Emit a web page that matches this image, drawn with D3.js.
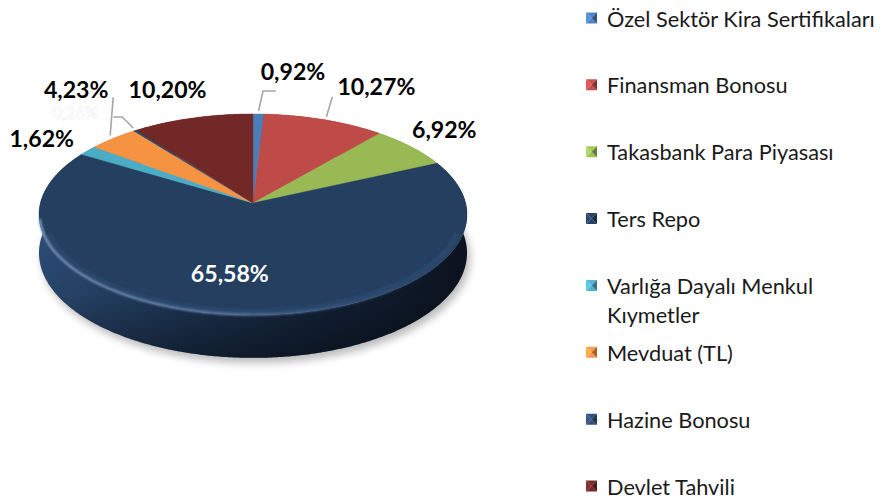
<!DOCTYPE html>
<html><head><meta charset="utf-8">
<script src="https://cdn.jsdelivr.net/npm/d3@7"></script>
<style>body{margin:0;background:#fff;} svg{display:block;}</style>
</head><body>
<svg id="chart" width="891" height="500"></svg>
<script>
// ---- data ----
const categories = ["Özel Sektör Kira Sertifikaları","Finansman Bonosu","Takasbank Para Piyasası","Ters Repo","Varlığa Dayalı Menkul Kıymetler","Mevduat (TL)","Hazine Bonosu","Devlet Tahvili"];
const values = [0.92, 10.27, 6.92, 65.58, 1.62, 4.23, 0.26, 10.20];
const valueLabels = ["0,92%","10,27%","6,92%","65,58%","1,62%","4,23%","0,26%","10,20%"];
const colors = ["#4a7ebb","#be4b48","#98b954","#243f60","#4bacc6","#f59343","#2c4d75","#722827"];

// ---- label layout (offsets from slice rim mid-point) ----
const labelLayout = [
  {dx:34.5, dy:-34, leader:[[0,-3],[4.5,-23],[17.5,-23]]},
  {dx:52, dy:-25, leader:[[2,-3],[8,-23]]},
  {dx:33, dy:-9},
  {dx:-9.6, dy:-32.7, inside:true},
  {dx:-46, dy:-3.6},
  {dx:-37, dy:-40, leader:[[-3,-3],[0,-41]]},
  {dx:-60, dy:-11.5, leader:[[-2,-2.5],[-13,-13.5],[-22,-13.5]], ghost:true},
  {dx:-25, dy:-20}
];

const svg = d3.select("#chart");
const defs = svg.append("defs");

// projection of a tilted disc with mild perspective
const cx = 253, cy = 203, A = 212.6, B = 99.2, K = 0.114, D = 38;
function proj(theta, r = 1, h = 0) {
  const u = Math.sin(theta) * r, v = Math.cos(theta) * r;
  const f = 1 / (1 + K * v);
  return [cx + A * u * f, cy + (-B * v + D * h) * f];
}
function arcPts(a0, a1, h, r = 1) {
  const n = Math.max(2, Math.ceil(Math.abs(a1 - a0) / 0.01));
  return d3.range(n + 1).map(i => proj(a0 + (a1 - a0) * i / n, r, h));
}
const line = d3.line();

const arcs = d3.pie().sort(null).value(d => d)(values);

// filters & gradients
const blur = defs.append("filter").attr("id","shadowBlur").attr("x","-20%").attr("y","-20%").attr("width","140%").attr("height","140%");
blur.append("feGaussianBlur").attr("stdDeviation", 4);
const blur2 = defs.append("filter").attr("id","hlBlur").attr("x","-10%").attr("y","-10%").attr("width","120%").attr("height","120%");
blur2.append("feGaussianBlur").attr("stdDeviation", 1.1);

const sideGrad = defs.append("linearGradient").attr("id","sideGrad")
  .attr("gradientUnits","userSpaceOnUse").attr("x1",cx - A).attr("x2",cx + A).attr("y1",0).attr("y2",0);
[["0%","#2d4e78"],["35%","#1f3858"],["70%","#142339"],["100%","#0c1421"]].forEach(s =>
  sideGrad.append("stop").attr("offset",s[0]).attr("stop-color",s[1]));
const sideShade = defs.append("linearGradient").attr("id","sideShade")
  .attr("gradientUnits","userSpaceOnUse").attr("x1",0).attr("x2",0).attr("y1",220).attr("y2",358);
[["0%",0],["55%",0.12],["100%",0.45]].forEach(s =>
  sideShade.append("stop").attr("offset",s[0]).attr("stop-color","#000").attr("stop-opacity",s[1]));
const hlGrad = defs.append("linearGradient").attr("id","hlGrad")
  .attr("gradientUnits","userSpaceOnUse").attr("x1",cx - A).attr("x2",cx + A).attr("y1",0).attr("y2",0);
[["0%","#8aa6cc",0.9],["45%","#7f9cc2",0.75],["80%","#5e7ba3",0.25],["100%","#5e7ba3",0.0]].forEach(s =>
  hlGrad.append("stop").attr("offset",s[0]).attr("stop-color",s[1]).attr("stop-opacity",s[2]));

// shadow
const full = arcPts(0, 2 * Math.PI, 1);
svg.append("path").attr("d", line(full) + "Z")
  .attr("transform","translate(3,5)")
  .attr("fill","#000").attr("opacity",0.28).attr("filter","url(#shadowBlur)");

// sides
const sides = svg.append("g");
arcs.forEach((a, i) => {
  const top = arcPts(a.startAngle, a.endAngle, 0);
  const bot = arcPts(a.startAngle, a.endAngle, 1).reverse();
  const d = line(top.concat(bot)) + "Z";
  const base = colors[i];
  sides.append("path").attr("d", d).attr("fill", i === 3 ? "url(#sideGrad)" : d3.color(base).darker(0.8));
  sides.append("path").attr("d", d).attr("fill", "url(#sideShade)");
});

// tops
const tops = svg.append("g");
arcs.forEach((a, i) => {
  const pts = [[cx, cy]].concat(arcPts(a.startAngle, a.endAngle, 0));
  tops.append("path").attr("d", line(pts) + "Z").attr("fill", colors[i])
    .attr("stroke", colors[i]).attr("stroke-width", 0.4);
});

// rim highlight on the front edge
const rim = arcPts(Math.PI * 0.55, Math.PI * 1.45, 0, 0.997).reverse();
svg.append("path").attr("d", line(rim)).attr("fill","none")
  .attr("stroke","url(#hlGrad)").attr("stroke-width",2.4).attr("filter","url(#hlBlur)");
const rimInner = arcPts(Math.PI * 0.6, Math.PI * 1.4, 0, 0.975).reverse();
svg.append("path").attr("d", line(rimInner)).attr("fill","none")
  .attr("stroke","#35557f").attr("stroke-opacity",0.35).attr("stroke-width",6).attr("filter","url(#hlBlur)");

// labels
const labelFont = "Lato, 'Open Sans', sans-serif";
const tmp = svg.append("text").attr("font-family", labelFont).attr("font-weight","bold").attr("font-size",22).text("10,27%");
const labelSize = 22 * 78 / tmp.node().getComputedTextLength();
tmp.remove();

const lg = svg.append("g");
arcs.forEach((a, i) => {
  const L = labelLayout[i];
  const mid = (a.startAngle + a.endAngle) / 2;
  const p = proj(mid, 1, 0);
  if (L.leader) {
    const pts = L.leader.map(o => [p[0] + o[0], p[1] + o[1]]);
    lg.append("path").attr("d", line(pts)).attr("fill","none")
      .attr("stroke","#a6a6a6").attr("stroke-width",1.6);
  }
  const t = lg.append("text")
    .attr("x", p[0] + L.dx).attr("y", p[1] + L.dy)
    .attr("text-anchor","middle")
    .attr("font-family", labelFont).attr("font-weight","bold")
    .attr("font-size", L.ghost ? 16.5 : labelSize)
    .text(valueLabels[i]);
  if (L.inside) t.attr("fill", "#ffffff");
  else if (L.ghost) t.attr("fill", "#ffffff").attr("stroke","#efefef").attr("stroke-width",0.5);
  else t.attr("fill", "#000000");
});

// legend
const legendFont = "Lato, 'Open Sans', sans-serif";
const tmp2 = svg.append("text").attr("font-family", legendFont).attr("font-size",20).text(categories[0]);
const legendSize = 20 * 268 / tmp2.node().getComputedTextLength();
tmp2.remove();

const ly = d3.scaleLinear().domain([0, categories.length - 1]).range([19, 487]);
const legend = svg.append("g");
const sw = 11, sx = 586, tx = 607, maxW = 280, lineH = 29;
categories.forEach((c, i) => {
  const yc = ly(i);
  const g = legend.append("g");
  const x0 = sx, y0 = yc - 1 - sw / 2, x1 = sx + sw, y1 = y0 + sw, mx = sx + sw / 2, my = y0 + sw / 2;
  const base = d3.color(colors[i]);
  const tri = (pts, fill) => g.append("path").attr("d", line(pts) + "Z").attr("fill", fill);
  tri([[x0,y0],[x1,y0],[mx,my]], base.brighter(0.2));
  tri([[x0,y1],[x1,y1],[mx,my]], base.brighter(0.1));
  tri([[x0,y0],[x0,y1],[mx,my]], base.brighter(0.45));
  tri([[x1,y0],[x1,y1],[mx,my]], base.darker(1.1));
  const t = g.append("text").attr("x", tx).attr("y", yc)
    .attr("dy", "0.35em")
    .attr("font-family", legendFont).attr("font-size", legendSize).attr("fill", "#1a1a1a");
  // wrap words
  const words = c.split(" ");
  let lineWords = [];
  let ts = t.append("tspan").attr("x", tx);
  words.forEach(w => {
    lineWords.push(w);
    ts.text(lineWords.join(" "));
    if (ts.node().getComputedTextLength() > maxW && lineWords.length > 1) {
      lineWords.pop();
      ts.text(lineWords.join(" "));
      lineWords = [w];
      ts = t.append("tspan").attr("x", tx).attr("dy", lineH).text(w);
    }
  });
});
</script>
</body></html>
